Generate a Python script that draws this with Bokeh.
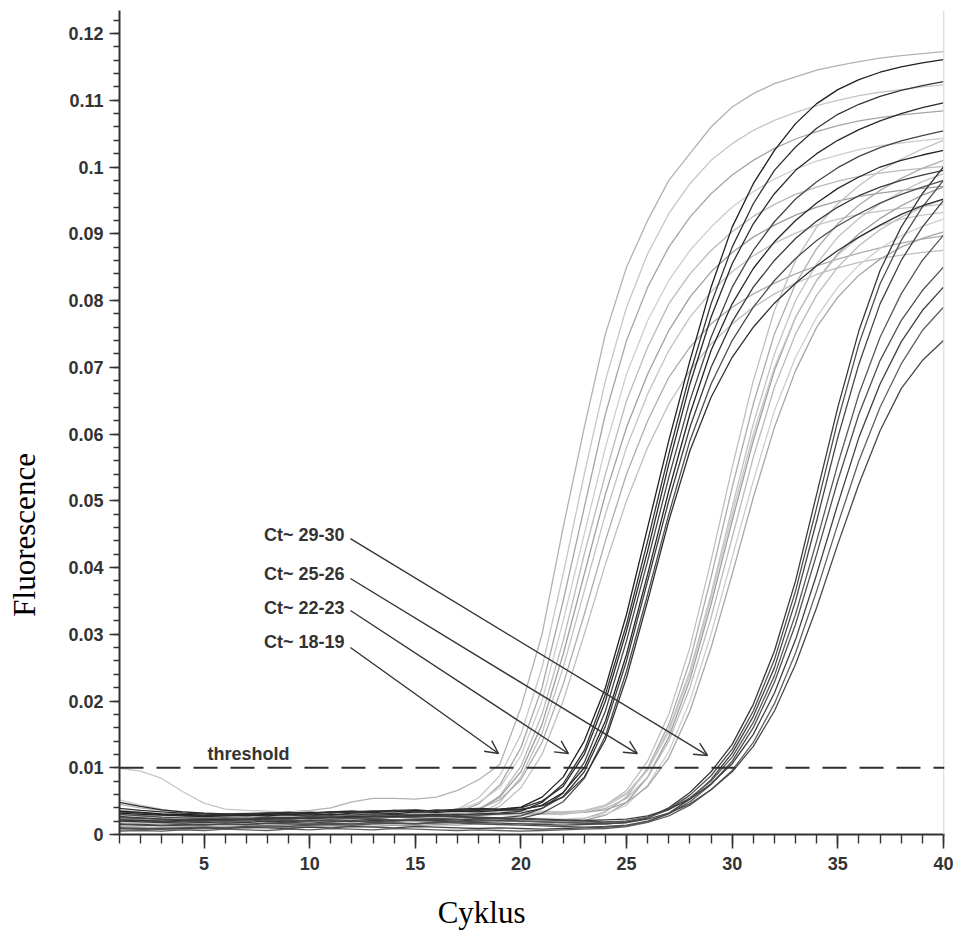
from bokeh.plotting import figure
from bokeh.models import (Range1d, FixedTicker, CustomJSTickFormatter, Arrow,
                          OpenHead, Span, ColumnDataSource, Label, LinearAxis)
from bokeh.embed import file_html
from bokeh.resources import INLINE

# ---------------- data (fluorescence in units of 0.001) ----------------
CYCLES = list(range(1, 41))

# group "Ct ~ 18-19" (light gray)
A1 = [4.5,4.0,3.6,3.4,3.2,3.1,3.2,3.3,3.4,3.6,4.0,4.9,5.4,5.4,5.3,5.6,
      6.6,8.2,10.5,19,30,46,61,75,85,92,98,102,106,109,111,112.5,113.5,114.5,115.2,115.8,116.3,116.7,117.0,117.3]
A2 = [3.0,2.8,2.6,2.5,2.4,2.5,2.6,2.7,2.6,2.8,2.9,3.0,3.1,3.0,3.2,3.3,
      3.8,5.5,8.8,15,25,39,54,68,79,87,93,97.5,101,103.5,105.5,107,108.2,109.2,110,110.7,111.2,111.6,112,112.3]
A3 = [2.0,1.9,1.8,1.9,2.0,2.1,2.0,2.2,2.3,2.2,2.4,2.5,2.4,2.6,2.7,2.8,
      3.3,4.6,7.4,13,22,35,49,63,74,82,88,92.5,96,98.8,101,102.8,104.2,105.3,106.2,106.9,107.4,107.8,108.1,108.4]
A4 = [5.2,4.4,3.8,3.3,3.0,2.8,2.7,2.8,2.9,3.0,2.9,3.1,3.2,3.1,3.3,3.4,
      3.7,4.8,7.0,11.8,20,32,45,58,69,77,83,87.5,91,94,96.3,98.2,99.7,100.9,101.8,102.6,103.2,103.6,104,104.3]
A5 = [1.2,1.1,1.0,1.2,1.3,1.2,1.4,1.5,1.4,1.6,1.7,1.6,1.8,1.9,2.0,2.1,
      2.5,3.6,5.8,10.2,18,29,42,54,65,73,79.5,84,87.5,90.3,92.6,94.4,95.9,97,97.9,98.6,99.1,99.5,99.8,100.1]
A6 = [3.6,3.3,3.0,2.8,2.6,2.4,2.3,2.2,2.3,2.4,2.5,2.4,2.6,2.7,2.6,2.8,
      3.0,3.8,5.6,9.4,16.5,27,39,51,61,69,75.5,80.5,84.3,87.2,89.5,91.3,92.8,94,94.9,95.6,96.1,96.5,96.8,97.1]
A7 = [0.8,0.7,0.9,1.0,0.9,1.1,1.0,1.2,1.3,1.2,1.4,1.3,1.5,1.6,1.5,1.7,
      2.0,2.9,4.8,8.6,15.2,25,36.5,48,58,66,72.5,77.5,81.3,84.3,86.7,88.6,90.1,91.3,92.2,92.9,93.4,93.8,94.1,94.4]
A8 = [2.6,2.5,2.4,2.3,2.4,2.5,2.4,2.6,2.7,2.6,2.8,2.9,2.8,3.0,3.1,3.0,
      3.2,3.8,5.2,8.2,13.8,22.5,33,44,54,62,68.5,73,76.5,79,81,82.6,84,85.2,86.2,87.1,87.9,88.6,89.2,89.7]
A9 = [1.8,1.7,1.6,1.7,1.8,1.7,1.9,2.0,1.9,2.1,2.0,2.2,2.3,2.2,2.4,2.3,
      2.5,3.0,4.2,7.0,12,20,30,40.5,50,58,64.5,69.5,73.5,76.5,79,81,82.6,83.9,84.9,85.7,86.3,86.8,87.2,87.5]

# group "Ct ~ 22-23" (dark)
B1 = [3.5,3.3,3.1,3.0,2.9,3.0,3.1,3.0,3.2,3.3,3.2,3.4,3.5,3.4,3.6,3.5,3.7,3.6,3.8,
      4.1,5.6,8.6,14,22,33,46,59,71,82,91,97.5,102.5,106.5,109.5,111.6,113.1,114.2,115,115.6,116.1]
B2 = [2.2,2.1,2.0,2.1,2.2,2.3,2.2,2.4,2.5,2.4,2.6,2.7,2.8,2.7,2.9,3.0,2.9,3.1,3.2,
      3.5,4.8,7.6,12.6,21,31.5,44,57,69,79.5,88,94.5,99.5,103,105.8,107.9,109.4,110.6,111.5,112.2,112.8]
B3 = [4.8,4.2,3.7,3.4,3.2,3.1,3.0,3.2,3.3,3.1,3.4,3.5,3.3,3.6,3.7,3.5,3.8,3.9,3.8,
      4.0,5.0,7.2,12,20,30.5,42.5,55.5,67.5,77.5,85.5,91.5,96,99.5,102,104,105.6,106.9,108,108.9,109.6]
B4 = [1.5,1.4,1.3,1.4,1.5,1.6,1.5,1.7,1.8,1.7,1.9,2.0,1.9,2.1,2.2,2.3,2.2,2.4,2.5,
      2.8,3.9,6.2,10.8,18.5,29,41,53.5,65,74.5,82,87.5,91.8,95.2,97.8,99.9,101.6,102.9,103.9,104.7,105.4]
B5 = [3.2,3.0,2.9,2.8,2.7,2.8,2.9,2.8,3.0,3.1,2.9,3.2,3.3,3.1,3.4,3.3,3.5,3.4,3.6,
      3.7,4.4,6.3,10,17,27,39,51.5,63,72.5,79.5,84.8,88.8,92,94.6,96.8,98.5,100,101,101.8,102.5]
B6 = [2.7,2.5,2.3,2.2,2.1,2.2,2.3,2.4,2.3,2.5,2.6,2.5,2.7,2.8,2.7,2.9,3.0,2.9,3.1,
      3.2,3.9,5.7,9.4,16.2,26,38,50,61,70,76.8,82,86,89.3,91.9,94,95.7,97,98,98.8,99.5]
B7 = [0.9,0.8,0.9,1.0,1.1,1.0,1.2,1.3,1.2,1.4,1.5,1.4,1.6,1.7,1.6,1.8,1.9,2.0,2.1,
      2.4,3.2,4.9,8.4,14.8,24.5,36,48,59,67.5,74,79,83,86.3,89,91.2,93,94.6,95.9,97,98]
B8 = [3.9,3.6,3.4,3.2,3.1,3.0,3.1,3.2,3.3,3.2,3.4,3.3,3.5,3.6,3.4,3.7,3.6,3.8,3.7,
      3.8,4.3,5.6,8.6,14.2,23.5,35,47,57.5,65.5,71.5,76,79.6,82.6,85.2,87.5,89.5,91.3,92.9,94.2,95.2]

# group "Ct ~ 25-26" (light gray)
C1 = [2.4,2.3,2.2,2.1,2.2,2.3,2.2,2.4,2.5,2.4,2.6,2.5,2.7,2.6,2.8,2.7,2.9,2.8,3.0,2.9,3.1,3.0,
      3.4,4.4,6.6,11,18,28,41,55,68,78.5,86,91,94.5,97.2,99.4,101.2,102.7,104]
C2 = [1.2,1.1,1.0,1.1,1.2,1.3,1.2,1.4,1.5,1.4,1.6,1.5,1.7,1.8,1.7,1.9,1.8,2.0,2.1,2.0,2.2,2.1,
      2.4,3.4,5.6,10,16.5,26,38.5,52,64.5,75,82.5,87.8,91.5,94.3,96.5,98.3,99.8,101]
C3 = [3.6,3.3,3.1,3.0,2.9,3.0,2.9,3.1,3.2,3.1,3.3,3.2,3.4,3.3,3.5,3.4,3.3,3.5,3.4,3.6,3.5,3.4,
      3.6,4.4,6.2,9.8,15.8,24.5,36,49,61.5,72,80,85.5,89.5,92.3,94.5,96.3,97.8,99]
C4 = [0.6,0.7,0.8,0.7,0.9,1.0,0.9,1.1,1.0,1.2,1.1,1.3,1.2,1.4,1.3,1.5,1.4,1.6,1.5,1.7,1.6,1.8,
      2.1,2.9,4.8,8.6,14.6,23.2,34.5,47,59,69.5,77.5,83,87,90,92.3,94.2,95.8,97]
C5 = [2.9,2.8,2.6,2.5,2.6,2.7,2.6,2.8,2.7,2.9,2.8,3.0,2.9,3.1,3.0,3.2,3.1,3.0,3.2,3.1,3.3,3.2,
      3.3,3.9,5.4,8.6,14,22,32.5,44.5,56.5,67,75,80.8,85,88.2,90.6,92.5,94,95.2]
C6 = [1.9,1.8,1.7,1.8,1.9,1.8,2.0,1.9,2.1,2.0,2.2,2.1,2.3,2.2,2.1,2.3,2.2,2.4,2.3,2.5,2.4,2.3,
      2.5,3.0,4.4,7.4,12.4,20,30,41.5,53,63.5,71.5,77.5,82,85.3,87.8,89.7,91.1,92.2]
C7 = [3.3,3.1,2.9,2.8,2.7,2.8,2.7,2.9,2.8,3.0,2.9,3.1,3.0,2.9,3.1,3.0,3.2,3.1,3.0,3.2,3.1,3.3,
      3.3,3.7,4.8,7.2,11.5,18.5,28,39,50.5,61,69.5,76,80.5,83.8,86.2,88,89.3,90.3]
C8 = [9.9,9.5,8.4,6.4,4.7,3.8,3.6,3.5,3.4,3.5,3.4,3.6,3.5,3.4,3.6,3.5,3.4,3.3,3.4,3.2,3.3,3.2,
      3.4,4.2,6.0,9.6,15.4,24,35.5,48,60,70,77.5,83,86.8,89.5,91.2,92.2,92.8,93.2]

# group "Ct ~ 29-30" (dark)
D1 = [2.0,1.9,1.8,1.7,1.8,1.9,1.8,2.0,1.9,2.1,2.0,1.9,2.1,2.0,2.2,2.1,2.0,2.2,2.1,2.0,1.9,1.8,1.7,1.6,
      1.8,2.5,4.0,6.3,9.4,13.5,19.5,27.5,38,51,64,75.5,84.5,91,96,100]
D2 = [3.0,2.8,2.6,2.5,2.4,2.5,2.4,2.6,2.5,2.7,2.6,2.5,2.7,2.6,2.8,2.7,2.6,2.5,2.4,2.3,2.2,2.1,2.0,1.9,
      2.0,2.5,3.8,5.9,8.8,12.8,18.5,26.2,36.5,49,62,73.5,82.5,89,94,98]
D3 = [1.0,0.9,0.8,0.9,1.0,0.9,1.1,1.0,0.9,1.1,1.0,1.2,1.1,1.0,1.2,1.1,1.0,0.9,1.0,0.9,0.8,0.9,1.0,1.1,
      1.3,1.9,3.2,5.3,8.2,12.2,17.7,25,35,47,59.5,70.5,79.5,86,91,95]
D4 = [2.5,2.4,2.3,2.2,2.3,2.2,2.4,2.3,2.5,2.4,2.3,2.5,2.4,2.6,2.5,2.4,2.3,2.2,2.1,2.0,1.9,1.8,1.7,1.8,
      2.0,2.6,3.7,5.5,8.0,11.6,16.8,23.8,33,44,55.5,66,74.5,81,86,89.8]
D5 = [1.6,1.5,1.4,1.5,1.4,1.6,1.5,1.7,1.6,1.5,1.7,1.6,1.8,1.7,1.6,1.8,1.7,1.6,1.5,1.4,1.3,1.2,1.1,1.2,
      1.4,2.0,3.1,4.9,7.5,11,16,22.8,31.5,42,53,63,71,77,81.5,85]
D6 = [3.4,3.2,3.0,2.9,2.8,2.9,2.8,3.0,2.9,2.8,3.0,2.9,3.1,3.0,2.9,2.8,2.7,2.6,2.5,2.4,2.3,2.2,2.1,2.2,
      2.3,2.8,3.8,5.3,7.6,10.6,15,21.2,29.2,39,49.5,59.5,67.5,73.8,78.5,82]
D7 = [0.5,0.6,0.5,0.7,0.6,0.8,0.7,0.6,0.8,0.7,0.9,0.8,0.7,0.9,0.8,0.7,0.6,0.7,0.6,0.5,0.6,0.7,0.8,0.9,
      1.2,1.8,2.8,4.4,6.7,9.6,13.8,19.6,27.2,36.5,46.5,56,64,70.5,75.5,79]
D8 = [2.2,2.1,2.0,1.9,2.0,2.1,2.0,2.2,2.1,2.0,2.2,2.1,2.3,2.2,2.1,2.0,1.9,1.8,1.7,1.6,1.5,1.4,1.5,1.6,
      1.8,2.3,3.2,4.6,6.7,9.4,13.2,18.5,25.5,34,43.5,52.5,60.5,66.8,71,74]

GROUP_A = [A1, A2, A3, A4, A5, A6, A7, A8, A9]
GROUP_B = [B1, B2, B3, B4, B5, B6, B7, B8]
GROUP_C = [C1, C2, C3, C4, C5, C6, C7, C8]
GROUP_D = [D1, D2, D3, D4, D5, D6, D7, D8]
UNIT = 0.001

THRESHOLD = 0.01
X_TICKS = [5, 10, 15, 20, 25, 30, 35, 40]
Y_TICKS = [0, 0.01, 0.02, 0.03, 0.04, 0.05, 0.06, 0.07, 0.08, 0.09, 0.1, 0.11, 0.12]
Y_TICK_LABELS = ["0", "0.01", "0.02", "0.03", "0.04", "0.05", "0.06", "0.07",
                 "0.08", "0.09", "0.1", "0.11", "0.12"]
CT_LABELS = ["Ct~ 29-30", "Ct~ 25-26", "Ct~ 22-23", "Ct~ 18-19"]
X_TITLE = "Cyklus"
Y_TITLE = "Fluorescence"

# ---------------- styles / layout ----------------
LIGHT = ["#b2b2b2", "#c6c6c6", "#a6a6a6", "#cdcdcd", "#bababa", "#9f9f9f", "#c2c2c2", "#adadad", "#bfbfbf"]
DARKB = ["#1f1f1f", "#333333", "#2a2a2a", "#454545", "#262626", "#3c3c3c", "#4d4d4d", "#303030"]
DARKD = ["#3a3a3a", "#4e4e4e", "#444444", "#5a5a5a", "#505050", "#3f3f3f", "#606060", "#484848"]

CT_TEXT_POS = [(11.65, 0.0448), (11.65, 0.0391), (11.65, 0.0340), (11.65, 0.0288)]
CT_ARROW_START = [(11.93, 0.04434), (11.93, 0.03835), (11.93, 0.03356), (11.93, 0.02801)]
CT_ARROW_END = [(28.83, 0.01184), (25.51, 0.01213), (22.25, 0.01213), (18.94, 0.01213)]
# the axis titles sit off-centre in the original; trailing no-break spaces shift them
NBSP = "\u00a0"
X_TITLE_PAD = 13
Y_TITLE_PAD = 29

SANS = "Liberation Sans"
SERIF = "Liberation Serif"

p = figure(width=960, height=933,
           x_range=Range1d(1, 40.05), y_range=Range1d(0, 0.12345),
           output_backend="svg", toolbar_location=None,
           min_border_left=119, min_border_right=16,
           min_border_top=10, min_border_bottom=99)
p.xgrid.visible = False
p.ygrid.visible = False
p.outline_line_color = None
p.background_fill_color = "white"
p.border_fill_color = "white"


def add_group(curves, colors, width):
    src = ColumnDataSource(dict(
        xs=[CYCLES for _ in curves],
        ys=[[v * UNIT for v in c] for c in curves],
        color=[colors[i % len(colors)] for i in range(len(curves))],
    ))
    p.multi_line(xs="xs", ys="ys", line_color="color", line_width=width, source=src)


add_group(GROUP_A, LIGHT, 1.3)
add_group(GROUP_C, LIGHT[::-1], 1.3)
add_group(GROUP_D, DARKD, 1.3)
add_group(GROUP_B, DARKB, 1.3)

# right frame hairline
p.add_layout(Span(location=40.02, dimension="height", line_color="#dcdcdc", line_width=1.5))

# threshold
p.add_layout(Span(location=THRESHOLD, dimension="width", line_color="#2e2e2e",
                  line_width=2.2, line_dash="24 13"))
p.add_layout(Label(x=5.16, y=0.0121, text="threshold", text_align="left",
                   text_baseline="middle", text_font=SANS, text_font_style="bold",
                   text_font_size="18px", text_color="#333333"))

for lab, (tx, ty), (sx, sy), (ex, ey) in zip(CT_LABELS, CT_TEXT_POS, CT_ARROW_START, CT_ARROW_END):
    p.add_layout(Label(x=tx, y=ty, text=lab, text_align="right", text_baseline="middle",
                       text_font=SANS, text_font_style="bold", text_font_size="18px",
                       text_color="#333333"))
    p.add_layout(Arrow(x_start=sx, y_start=sy, x_end=ex, y_end=ey,
                       line_color="#333333", line_width=1.4,
                       end=OpenHead(size=13, line_color="#333333", line_width=1.4)))

# axes
xa = p.xaxis[0]
xa.ticker = FixedTicker(ticks=X_TICKS, minor_ticks=CYCLES)
xa.major_tick_out = 14
xa.major_tick_in = 0
xa.minor_tick_out = 9
xa.minor_tick_in = 0
xa.major_label_standoff = 8

ya = p.yaxis[0]
ya.ticker = FixedTicker(ticks=Y_TICKS, minor_ticks=[round(i * 0.002, 3) for i in range(62)])
ya.formatter = CustomJSTickFormatter(args=dict(t=Y_TICKS, l=Y_TICK_LABELS), code="""
    let b = 0;
    for (let i = 0; i < t.length; i++) { if (Math.abs(t[i] - tick) < Math.abs(t[b] - tick)) b = i; }
    return l[b];
""")
ya.major_tick_out = 10
ya.major_tick_in = 0
ya.minor_tick_out = 6
ya.minor_tick_in = 0
ya.major_label_standoff = 6

for ax in (xa, ya):
    ax.axis_line_color = "#333333"
    ax.axis_line_width = 2
    ax.major_tick_line_color = "#333333"
    ax.major_tick_line_width = 1.6
    ax.minor_tick_line_color = "#333333"
    ax.minor_tick_line_width = 1.4
    ax.major_label_text_font = SANS
    ax.major_label_text_font_style = "bold"
    ax.major_label_text_font_size = "18px"
    ax.major_label_text_color = "#333333"


def title_axis(label, standoff):
    return LinearAxis(ticker=FixedTicker(ticks=[], minor_ticks=[]),
                      axis_line_color=None, major_tick_line_color=None,
                      minor_tick_line_color=None, major_tick_out=0, major_tick_in=0,
                      minor_tick_out=0, minor_tick_in=0, major_label_standoff=0,
                      axis_label=label, axis_label_standoff=standoff,
                      axis_label_text_font=SERIF, axis_label_text_font_size="31px",
                      axis_label_text_font_style="normal", axis_label_text_color="black")


p.add_layout(title_axis(X_TITLE + NBSP * X_TITLE_PAD, 22), "below")
p.add_layout(title_axis(Y_TITLE + NBSP * Y_TITLE_PAD, 24), "left")

open("out.html", "w").write(file_html(p, INLINE))
